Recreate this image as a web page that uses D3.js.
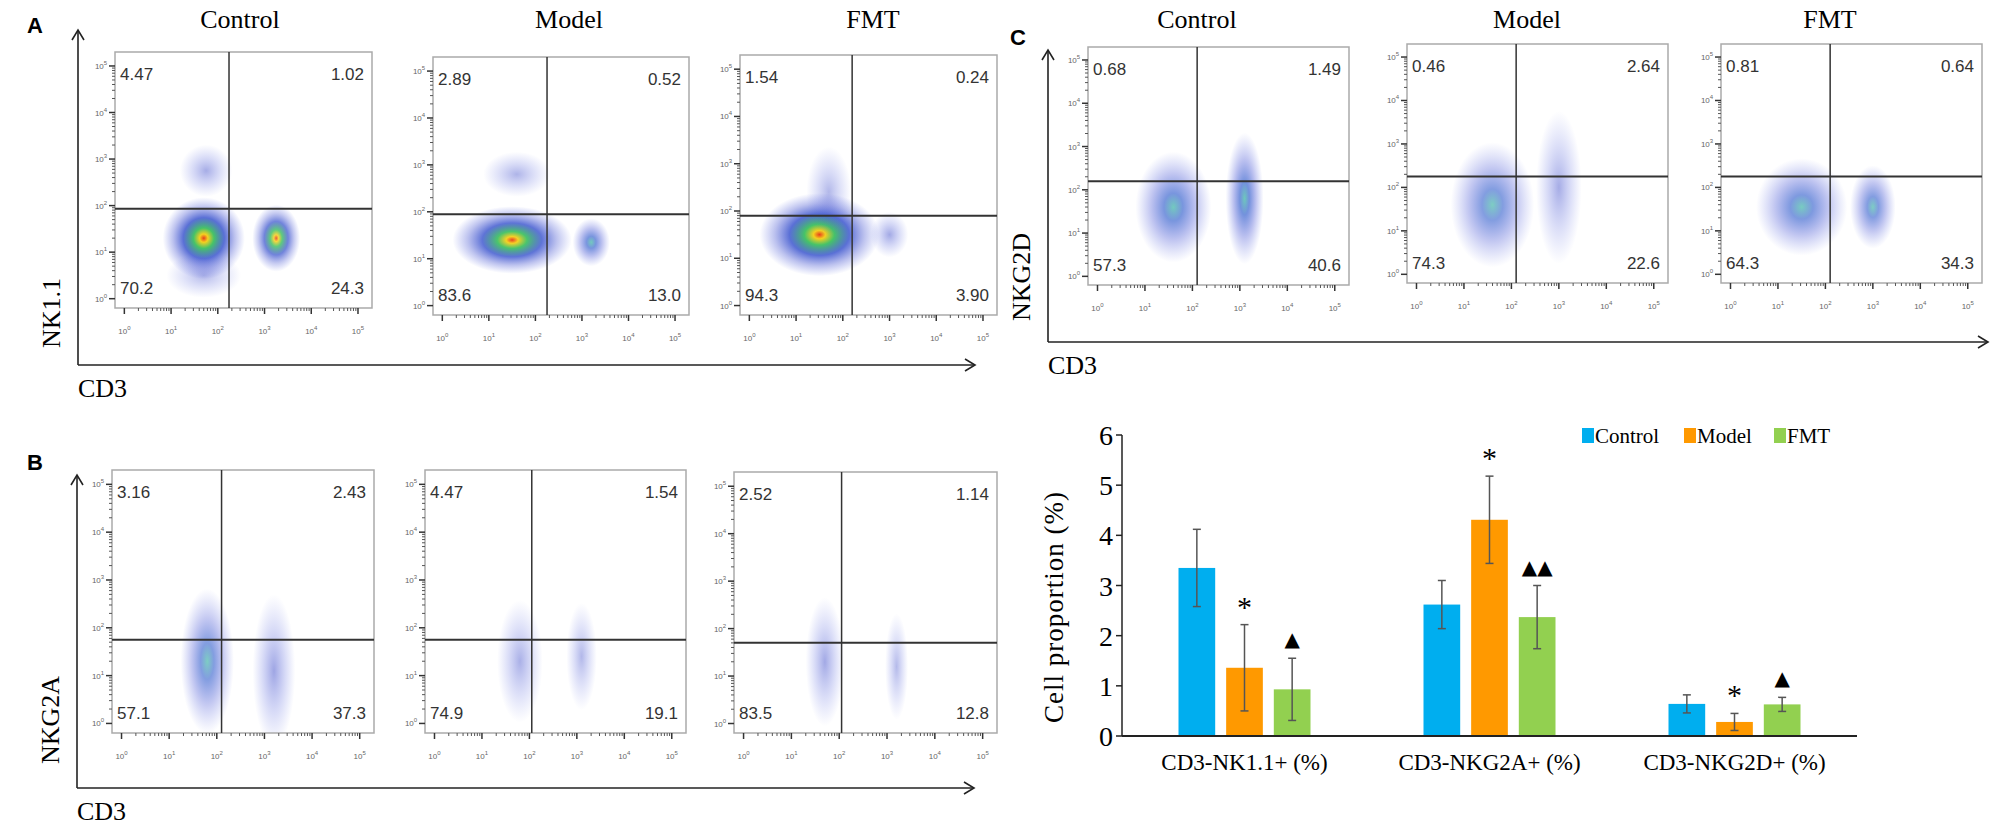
<!DOCTYPE html>
<html>
<head>
<meta charset="utf-8">
<script src="https://cdn.jsdelivr.net/npm/d3@7"></script>
<style>
  body { margin: 0; background: #fff; }
  text { font-family: "Liberation Serif", serif; }
</style>
</head>
<body>
<svg id="fig" width="1995" height="831"></svg>
<script>
// ---- data ----
const groups = ["Control", "Model", "FMT"];
const categories = ["CD3-NK1.1+ (%)", "CD3-NKG2A+ (%)", "CD3-NKG2D+ (%)"];
const controlVals = [3.35, 2.62, 0.64];
const modelVals = [1.36, 4.31, 0.28];
const fmtVals = [0.93, 2.37, 0.63];
const controlErr = [0.77, 0.48, 0.18];
const modelErr = [0.86, 0.87, 0.17];
const fmtErr = [0.62, 0.63, 0.14];
const modelMarks = ["*", "*", "*"];
const fmtMarks = ["▲", "▲▲", "▲"];
const yTicks = [0, 1, 2, 3, 4, 5, 6];

// quadrant percentages [UL, UR, LL, LR] per panel, per group
const quadA = [["4.47", "1.02", "70.2", "24.3"], ["2.89", "0.52", "83.6", "13.0"], ["1.54", "0.24", "94.3", "3.90"]];
const quadB = [["3.16", "2.43", "57.1", "37.3"], ["4.47", "1.54", "74.9", "19.1"], ["2.52", "1.14", "83.5", "12.8"]];
const quadC = [["0.68", "1.49", "57.3", "40.6"], ["0.46", "2.64", "74.3", "22.6"], ["0.81", "0.64", "64.3", "34.3"]];
// gate positions in log decades [x, y]
const gatesA = [[2.24, 1.93], [2.25, 1.95], [2.2, 1.9]];
const gatesB = [[2.1, 1.75], [2.05, 1.75], [2.05, 1.7]];
const gatesC = [[2.1, 2.2], [2.1, 2.25], [2.1, 2.25]];
// population clouds: [x decade, y decade, spread x, spread y, density 0..1]
const cloudsA = [
  [[1.7, 1.3, 0.55, 0.55, 1.0], [3.25, 1.3, 0.32, 0.45, 0.75], [1.75, 2.75, 0.35, 0.35, 0.3], [1.7, 0.5, 0.5, 0.3, 0.15]],
  [[1.5, 1.4, 0.8, 0.45, 0.95], [3.2, 1.35, 0.25, 0.32, 0.55], [1.6, 2.8, 0.45, 0.3, 0.2]],
  [[1.5, 1.5, 0.8, 0.55, 1.0], [3.0, 1.5, 0.25, 0.3, 0.35], [1.7, 2.4, 0.3, 0.6, 0.15]]
];
const cloudsB = [
  [[1.8, 1.3, 0.35, 0.95, 0.45], [3.2, 1.1, 0.28, 1.0, 0.4]],
  [[1.8, 1.3, 0.3, 0.8, 0.25], [3.1, 1.4, 0.2, 0.7, 0.15]],
  [[1.7, 1.3, 0.25, 0.85, 0.35], [3.2, 1.2, 0.15, 0.7, 0.12]]
];
const cloudsC = [
  [[1.6, 1.6, 0.5, 0.8, 0.55], [3.1, 1.8, 0.25, 0.95, 0.6]],
  [[1.6, 1.6, 0.55, 0.9, 0.45], [3.0, 2.0, 0.3, 1.1, 0.3]],
  [[1.5, 1.55, 0.6, 0.7, 0.5], [3.0, 1.55, 0.3, 0.6, 0.45]]
];

// ---- layout ----
const svg = d3.select("#fig");
const defs = svg.append("defs");

// density colour gradients
const hot = defs.append("radialGradient").attr("id", "hot");
[[0, "#e8401c", 1], [0.1, "#f5d020", 1], [0.25, "#3cc060", 0.95], [0.5, "#2340c8", 0.75], [0.75, "#4050d0", 0.35], [1, "#5060e0", 0]]
  .forEach(s => hot.append("stop").attr("offset", s[0]).attr("stop-color", s[1]).attr("stop-opacity", s[2]));
const mid = defs.append("radialGradient").attr("id", "mid");
[[0, "#30b0a0", 0.9], [0.25, "#2050c8", 0.8], [0.6, "#3040d0", 0.4], [1, "#5060e0", 0]]
  .forEach(s => mid.append("stop").attr("offset", s[0]).attr("stop-color", s[1]).attr("stop-opacity", s[2]));
const cool = defs.append("radialGradient").attr("id", "cool");
[[0, "#2030c0", 0.65], [0.55, "#4050d8", 0.3], [1, "#5060e0", 0]]
  .forEach(s => cool.append("stop").attr("offset", s[0]).attr("stop-color", s[1]).attr("stop-opacity", s[2]));

function tenLabel(sel, x, y, p) {
  const t = sel.append("text").attr("x", x).attr("y", y)
    .style("font-family", "Liberation Sans, sans-serif").style("font-size", "8px").attr("fill", "#666")
    .attr("text-anchor", "middle");
  t.append("tspan").text("10");
  t.append("tspan").attr("dy", -4).style("font-size", "6px").text(p);
}

function drawFlow(box, quads, gate, clouds) {
  const g = svg.append("g");
  const x = d3.scaleLinear().domain([-0.2, 5.3]).range([box.x0, box.x1]);
  const y = d3.scaleLinear().domain([-0.2, 5.3]).range([box.y1, box.y0]);

  const clip = "clip" + Math.round(box.x0) + "_" + Math.round(box.y0);
  defs.append("clipPath").attr("id", clip).append("rect")
    .attr("x", box.x0).attr("y", box.y0).attr("width", box.x1 - box.x0).attr("height", box.y1 - box.y0);

  g.append("g").attr("clip-path", `url(#${clip})`).selectAll("ellipse")
    .data(clouds).join("ellipse")
    .attr("cx", d => x(d[0])).attr("cy", d => y(d[1]))
    .attr("rx", d => (x(d[2]) - x(0)) * 1.6).attr("ry", d => (y(0) - y(d[3])) * 1.6)
    .attr("fill", d => d[4] > 0.7 ? "url(#hot)" : d[4] > 0.4 ? "url(#mid)" : "url(#cool)")
    .attr("opacity", d => 0.45 + d[4] * 0.55);

  g.append("rect").attr("x", box.x0).attr("y", box.y0)
    .attr("width", box.x1 - box.x0).attr("height", box.y1 - box.y0)
    .attr("fill", "none").attr("stroke", "#aaa").attr("stroke-width", 1.5);

  // gates
  g.append("line").attr("x1", x(gate[0])).attr("x2", x(gate[0])).attr("y1", box.y0).attr("y2", box.y1)
    .attr("stroke", "#333").attr("stroke-width", 1.5);
  g.append("line").attr("x1", box.x0).attr("x2", box.x1).attr("y1", y(gate[1])).attr("y2", y(gate[1]))
    .attr("stroke", "#333").attr("stroke-width", 2);

  // ticks
  const minor = [];
  d3.range(0, 5).forEach(dec => d3.range(2, 10).forEach(m => minor.push(dec + Math.log10(m))));
  const major = d3.range(0, 6);
  g.append("g").selectAll("line").data(major).join("line")
    .attr("x1", d => x(d)).attr("x2", d => x(d)).attr("y1", box.y1).attr("y2", box.y1 + 6)
    .attr("stroke", "#333").attr("stroke-width", 1.5);
  g.append("g").selectAll("line").data(minor).join("line")
    .attr("x1", d => x(d)).attr("x2", d => x(d)).attr("y1", box.y1).attr("y2", box.y1 + 3)
    .attr("stroke", "#555").attr("stroke-width", 1);
  g.append("g").selectAll("line").data(major).join("line")
    .attr("y1", d => y(d)).attr("y2", d => y(d)).attr("x1", box.x0).attr("x2", box.x0 - 6)
    .attr("stroke", "#333").attr("stroke-width", 1.5);
  g.append("g").selectAll("line").data(minor).join("line")
    .attr("y1", d => y(d)).attr("y2", d => y(d)).attr("x1", box.x0).attr("x2", box.x0 - 3)
    .attr("stroke", "#555").attr("stroke-width", 1);
  major.forEach(d => {
    tenLabel(g, x(d), box.y1 + 26, d);
    tenLabel(g, box.x0 - 14, y(d) + 3, d);
  });

  // quadrant numbers
  const qs = { "font-family": "Liberation Sans, sans-serif", "font-size": "17px", "fill": "#333" };
  const qpos = [
    [box.x0 + 5, box.y0 + 28, "start"], [box.x1 - 8, box.y0 + 28, "end"],
    [box.x0 + 5, box.y1 - 14, "start"], [box.x1 - 8, box.y1 - 14, "end"]
  ];
  quads.forEach((q, i) => {
    const t = g.append("text").attr("x", qpos[i][0]).attr("y", qpos[i][1])
      .attr("text-anchor", qpos[i][2]).text(q);
    Object.entries(qs).forEach(([k, v]) => t.style(k, v));
  });
}

function arrowAxes(ax, yLabel, yLabelY) {
  const g = svg.append("g").attr("stroke", "#222").attr("stroke-width", 1.6).attr("fill", "none");
  g.append("path").attr("d", `M${ax.x},${ax.yb} L${ax.x},${ax.yt}`);
  g.append("path").attr("d", `M${ax.x - 6},${ax.yt + 10} L${ax.x},${ax.yt} L${ax.x + 6},${ax.yt + 10}`);
  g.append("path").attr("d", `M${ax.x},${ax.yb} L${ax.xr},${ax.yb}`);
  g.append("path").attr("d", `M${ax.xr - 10},${ax.yb - 6} L${ax.xr},${ax.yb} L${ax.xr - 10},${ax.yb + 6}`);
  svg.append("text").attr("transform", `translate(${ax.x - 18},${yLabelY}) rotate(-90)`)
    .attr("text-anchor", "middle").style("font-size", "26px").text(yLabel);
  svg.append("text").attr("x", ax.x).attr("y", ax.yb + 32).style("font-size", "26px").text("CD3");
}

function panelLetter(l, px, py) {
  svg.append("text").attr("x", px).attr("y", py)
    .style("font-family", "Liberation Sans, sans-serif").style("font-weight", "bold")
    .style("font-size", "22px").text(l);
}

function titles(xs, ty) {
  groups.forEach((gname, i) => svg.append("text").attr("x", xs[i]).attr("y", ty)
    .attr("text-anchor", "middle").style("font-size", "26px").text(gname));
}

// Panel A
panelLetter("A", 27, 33);
titles([240, 569, 873], 28);
const boxesA = [{x0: 115, x1: 372, y0: 52, y1: 308}, {x0: 433, x1: 689, y0: 57, y1: 315}, {x0: 740, x1: 997, y0: 55, y1: 315}];
boxesA.forEach((b, i) => drawFlow(b, quadA[i], gatesA[i], cloudsA[i]));
arrowAxes({x: 78, yt: 30, yb: 365, xr: 975}, "NK1.1", 313);

// Panel B
panelLetter("B", 27, 470);
const boxesB = [{x0: 112, x1: 374, y0: 470, y1: 733}, {x0: 425, x1: 686, y0: 470, y1: 733}, {x0: 734, x1: 997, y0: 472, y1: 733}];
boxesB.forEach((b, i) => drawFlow(b, quadB[i], gatesB[i], cloudsB[i]));
arrowAxes({x: 77, yt: 475, yb: 788, xr: 974}, "NKG2A", 720);

// Panel C
panelLetter("C", 1010, 45);
titles([1197, 1527, 1830], 28);
const boxesC = [{x0: 1088, x1: 1349, y0: 47, y1: 285}, {x0: 1407, x1: 1668, y0: 44, y1: 283}, {x0: 1721, x1: 1982, y0: 44, y1: 283}];
boxesC.forEach((b, i) => drawFlow(b, quadC[i], gatesC[i], cloudsC[i]));
arrowAxes({x: 1048, yt: 50, yb: 342, xr: 1988}, "NKG2D", 277);

// ---- bar chart ----
const colors = ["#00aeef", "#ff9900", "#92d050"];
const series = [
  {name: "Control", vals: controlVals, err: controlErr, marks: null},
  {name: "Model", vals: modelVals, err: modelErr, marks: modelMarks},
  {name: "FMT", vals: fmtVals, err: fmtErr, marks: fmtMarks}
];
const x0 = d3.scaleBand().domain(categories).range([1122, 1857]);
const x1 = d3.scaleBand().domain(groups).range([-66, 66]).paddingInner(0.23);
const yb = d3.scaleLinear().domain([0, 6]).range([736, 435]);
const bc = svg.append("g");

series.forEach((s, si) => {
  const cx = (i) => x0(categories[i]) + x0.bandwidth() / 2 + x1(s.name);
  bc.append("g").selectAll("rect").data(s.vals).join("rect")
    .attr("x", (d, i) => cx(i)).attr("width", x1.bandwidth())
    .attr("y", d => yb(d)).attr("height", d => yb(0) - yb(d)).attr("fill", colors[si]);
  const eg = bc.append("g").attr("stroke", "#555").attr("stroke-width", 1.5);
  s.vals.forEach((v, i) => {
    const mx = cx(i) + x1.bandwidth() / 2;
    const lo = yb(v - s.err[i]), hi = yb(v + s.err[i]);
    eg.append("line").attr("x1", mx).attr("x2", mx).attr("y1", lo).attr("y2", hi);
    eg.append("line").attr("x1", mx - 4).attr("x2", mx + 4).attr("y1", lo).attr("y2", lo);
    eg.append("line").attr("x1", mx - 4).attr("x2", mx + 4).attr("y1", hi).attr("y2", hi);
    if (s.marks) {
      const isStar = s.marks[i] === "*";
      bc.append("text").attr("x", mx).attr("y", hi - (isStar ? 8 : 12))
        .attr("text-anchor", "middle")
        .style("font-size", isStar ? "30px" : "20px")
        .style("font-family", isStar ? "Liberation Serif, serif" : "DejaVu Sans, sans-serif")
        .text(s.marks[i]);
    }
  });
});

// axes
bc.append("line").attr("x1", 1122).attr("x2", 1857).attr("y1", yb(0)).attr("y2", yb(0))
  .attr("stroke", "#222").attr("stroke-width", 2);
bc.append("line").attr("x1", 1122).attr("x2", 1122).attr("y1", yb(0)).attr("y2", yb(6))
  .attr("stroke", "#222").attr("stroke-width", 1.5);
bc.append("g").selectAll("line").data(yTicks).join("line")
  .attr("x1", 1116).attr("x2", 1122).attr("y1", d => yb(d)).attr("y2", d => yb(d))
  .attr("stroke", "#222").attr("stroke-width", 1.5);
bc.append("g").selectAll("text").data(yTicks).join("text")
  .attr("x", 1113).attr("y", d => yb(d) + 10).attr("text-anchor", "end")
  .style("font-size", "28px").text(d => d);
bc.append("g").selectAll("text").data(categories).join("text")
  .attr("x", d => x0(d) + x0.bandwidth() / 2).attr("y", 770).attr("text-anchor", "middle")
  .style("font-size", "23px").text(d => d);
bc.append("text").attr("transform", `translate(1063,607) rotate(-90)`)
  .attr("text-anchor", "middle").style("font-size", "27px").style("letter-spacing", "1px")
  .text("Cell proportion (%)");

// legend
const legX = [1582, 1684, 1774];
groups.forEach((gname, i) => {
  bc.append("rect").attr("x", legX[i]).attr("y", 428).attr("width", 12).attr("height", 15).attr("fill", colors[i]);
  bc.append("text").attr("x", legX[i] + 13).attr("y", 443).style("font-size", "21px").text(gname);
});
</script>
</body>
</html>
